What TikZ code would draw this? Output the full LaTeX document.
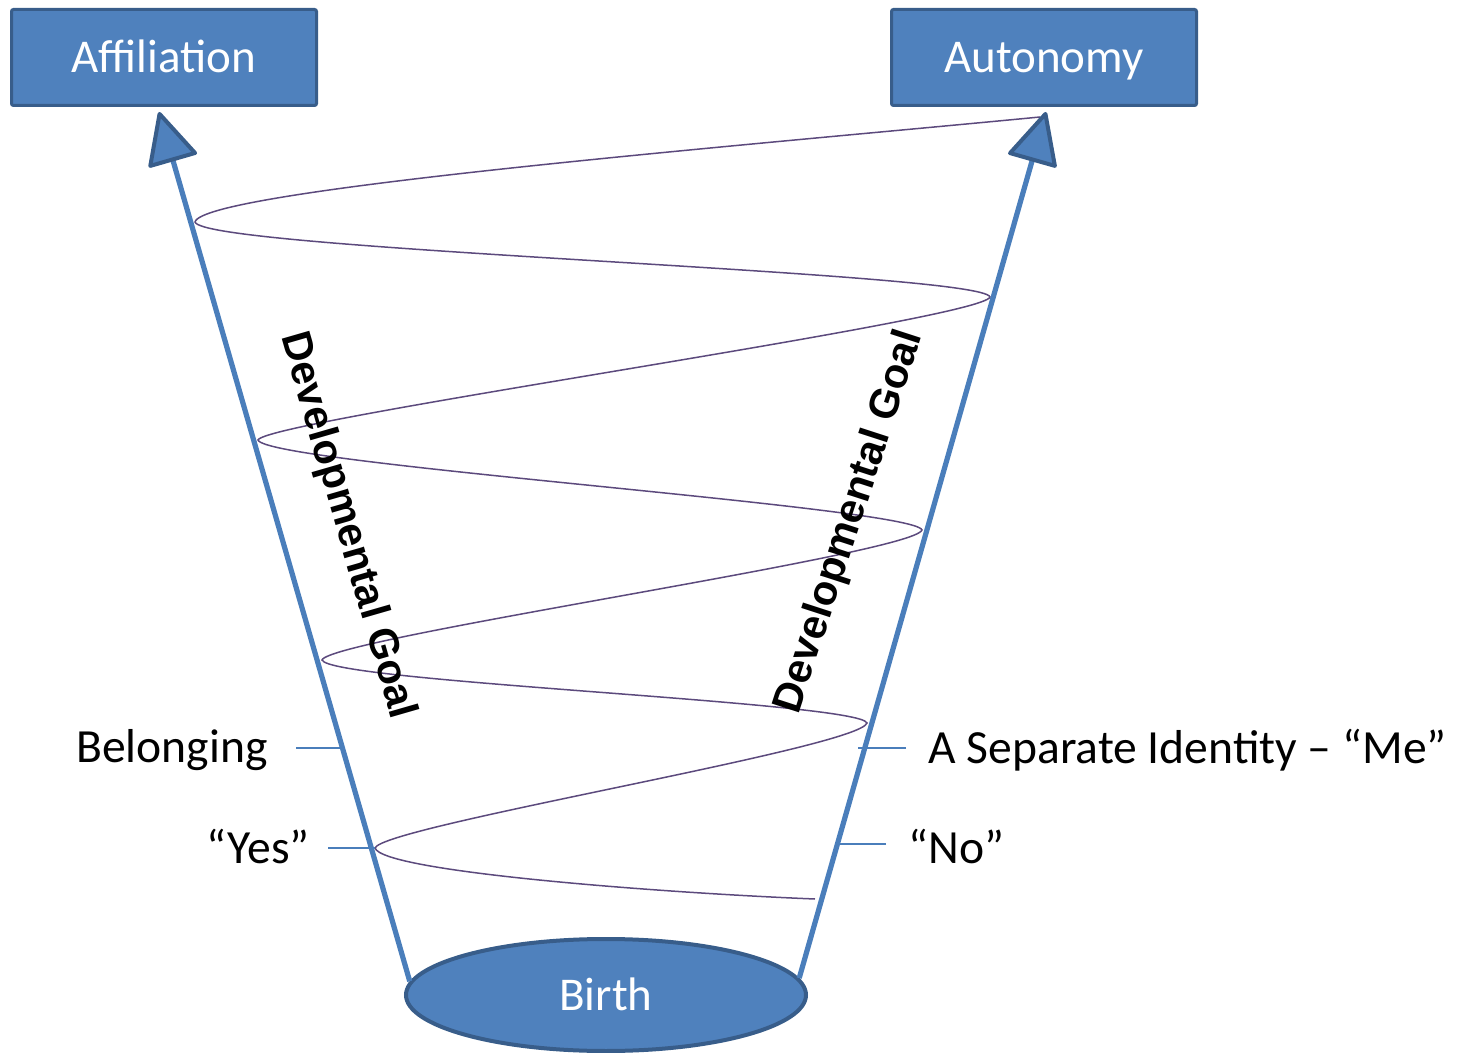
\documentclass[tikz,border=0pt]{standalone}
\usepackage{fontspec}
\setmainfont{Carlito}
\newfontfamily\goalfont{Liberation Sans Bold}
\usetikzlibrary{arrows.meta,shapes.geometric}
\definecolor{boxfill}{HTML}{4F81BD}
\definecolor{boxline}{HTML}{385D8A}
\definecolor{shaftblue}{HTML}{4A7EBB}
\definecolor{spiralcol}{HTML}{5C4A7D}

\begin{document}
\begin{tikzpicture}[x=0.5pt,y=-0.5pt,
  goalbox/.style={draw=boxline, fill=boxfill, line width=1.5pt, rounded corners=1pt,
    minimum width=152.5pt, minimum height=48pt, inner sep=0pt, text=white,
    font=\fontsize{23.5}{28}\selectfont, text height=15.1pt, text depth=0pt},
  birthnode/.style={ellipse, draw=boxline, fill=boxfill, line width=2pt,
    minimum width=200pt, minimum height=56pt, inner sep=0pt, text=white,
    font=\fontsize{23.5}{28}\selectfont, text height=15.1pt, text depth=0pt},
  shaft/.style={draw=shaftblue, line width=2.6pt,
    -{Triangle[length=27pt, width=26pt, fill=boxfill, color=boxline, line width=2pt, round]}},
  spiralline/.style={draw=spiralcol, line width=0.75pt},
  tick/.style={draw=shaftblue, line width=1pt},
  lbl/.style={inner sep=0pt, font=\fontsize{23.8}{28}\selectfont},
  goaltext/.style={inner sep=0pt, font=\goalfont\fontsize{20.8}{24}\selectfont}
]
\useasboundingbox (0,0) rectangle (1468,1053);

% goal boxes and the starting ellipse
\node[goalbox] (affil) at (164,57.5) {Affiliation};
\node[goalbox] (auton) at (1044,57.5) {Autonomy};
\node[birthnode] (birth) at (606,995) {Birth};

% spiral winding up between the two arrows
\draw[spiralline] (1040,117)
  .. controls (740,146) and (203,190) .. (195,222)
  .. controls (203,250) and (982,272) .. (990,297)
  .. controls (982,320) and (266,420) .. (258,440)
  .. controls (266,464) and (914,507) .. (922,530)
  .. controls (914,554) and (330,638) .. (322,660)
  .. controls (330,682) and (859,702) .. (867,723)
  .. controls (859,748) and (383,826) .. (375,848)
  .. controls (383,872) and (665,893) .. (815,899);

% the two developmental arrows
\coordinate (tipL) at (159,112);
\coordinate (tipR) at (1046,112);
\draw[shaft] (birth.176) -- (tipL);
\draw[shaft] (birth.5.5) -- (tipR);

% rotated captions along the arrows
\node[goaltext, rotate=-73.9] (goalL) at (347,526) {Developmental Goal};
\node[goaltext, rotate=72] (goalR) at (850,522) {Developmental Goal};

% side labels with their ticks
\node[lbl, anchor=base east] (belong) at (268,762) {Belonging};
\node[lbl, anchor=base east] (yes) at (310,863) {“Yes”};
\node[lbl, anchor=base west] (me) at (928,763) {A Separate Identity – “Me”};
\node[lbl, anchor=base west] (no) at (908,863) {“No”};

\coordinate (tkBelong) at (296,748);
\coordinate (tkYes) at (328,848);
\coordinate (tkMe) at (906,748);
\coordinate (tkNo) at (886,844);
\draw[tick] (tkBelong) -- (342,748);
\draw[tick] (tkYes) -- (375,848);
\draw[tick] (tkMe) -- (858,748);
\draw[tick] (tkNo) -- (836,844);
\end{tikzpicture}
\end{document}
